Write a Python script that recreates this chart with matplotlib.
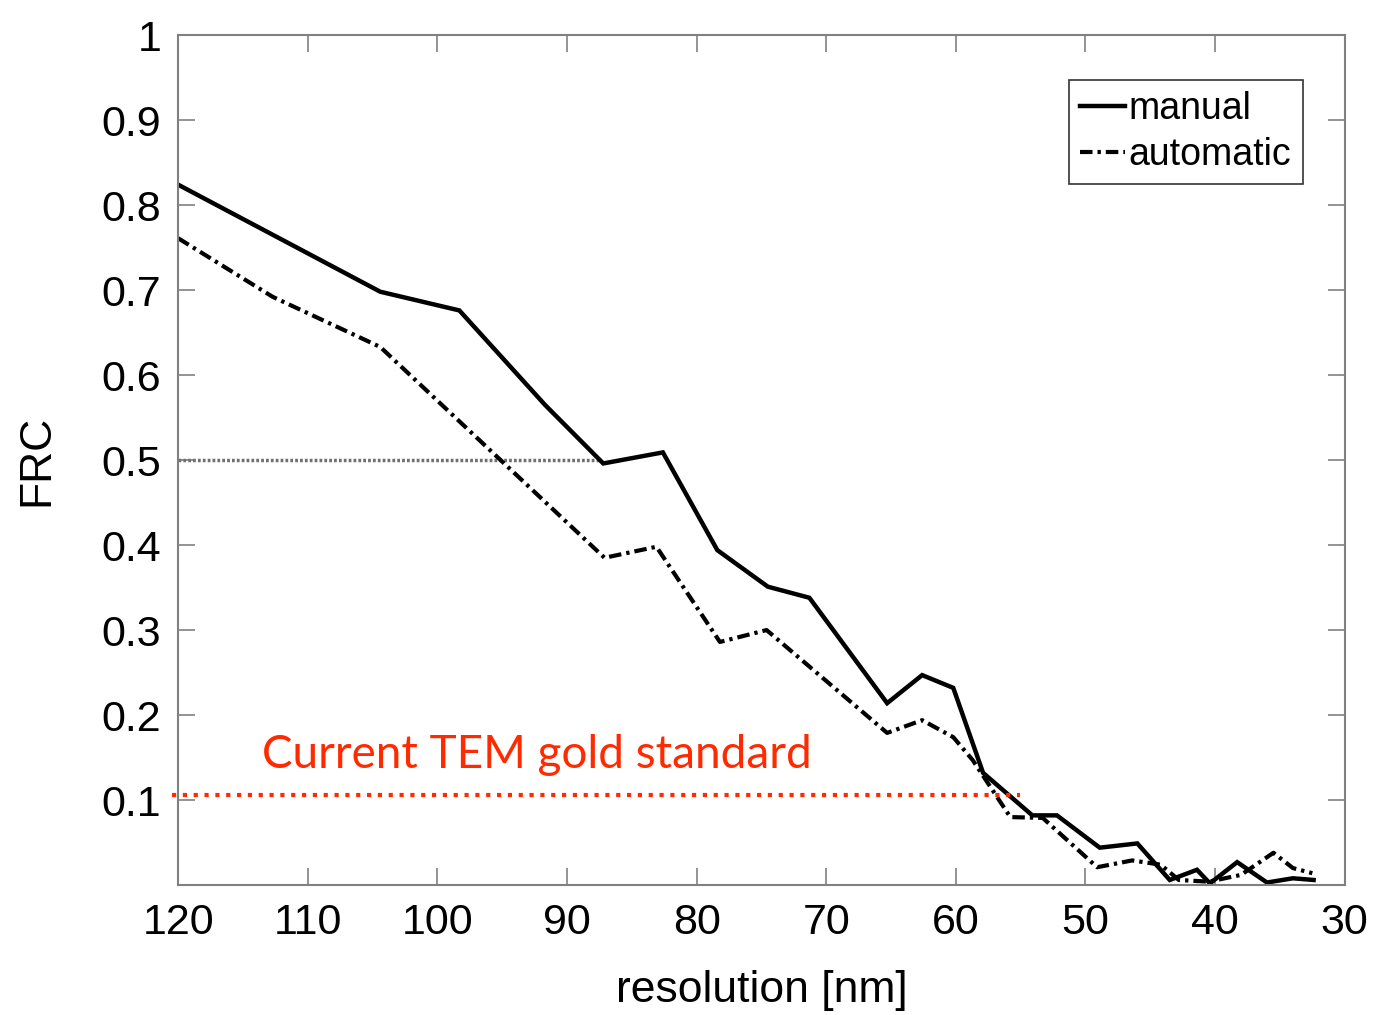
import matplotlib
matplotlib.use("Agg")
import matplotlib.pyplot as plt

# ---- data ----
manual_x = [120, 104.4, 98.3, 91.7, 87.2, 82.6, 78.4, 74.5, 71.3, 65.3, 62.6, 60.2,
            57.9, 54.1, 52.2, 48.9, 46.0, 43.5, 41.4, 40.4, 38.3, 36.0, 34.0, 32.4]
manual_y = [0.824, 0.698, 0.676, 0.565, 0.496, 0.509, 0.394, 0.351, 0.338, 0.214, 0.247, 0.232,
            0.132, 0.082, 0.082, 0.044, 0.049, 0.006, 0.018, 0.002, 0.027, 0.003, 0.008, 0.006]

auto_x = [120, 112.7, 104.4, 87.1, 83.1, 78.2, 74.6, 65.3, 62.6, 60.2, 58.7,
          55.8, 53.3, 49.1, 46.4, 44.2, 42.8, 40.5, 38.0, 35.5, 34.0, 32.5]
auto_y = [0.761, 0.692, 0.633, 0.385, 0.398, 0.286, 0.300, 0.179, 0.194, 0.174, 0.147,
          0.080, 0.079, 0.021, 0.029, 0.024, 0.006, 0.004, 0.012, 0.038, 0.020, 0.014]

half_line_x = [120, 87.5]
half_line_y = [0.5, 0.5]

gold_x = [120.46, 55.07]
gold_y = [0.106, 0.106]
gold_label = "Current TEM gold standard"

x_ticks = [120, 110, 100, 90, 80, 70, 60, 50, 40, 30]
y_ticks = [0.1, 0.2, 0.3, 0.4, 0.5, 0.6, 0.7, 0.8, 0.9, 1]
y_ticklabels = ["0.1", "0.2", "0.3", "0.4", "0.5", "0.6", "0.7", "0.8", "0.9", "1"]

plt.rcParams['font.family'] = ['Liberation Sans', 'DejaVu Sans']

fig = plt.figure(figsize=(13.75, 10.15), dpi=100)
ax = fig.add_axes([0.1295, 0.128, 0.8485, 0.8375])

ax.plot(half_line_x, half_line_y, color='#707070', lw=2.5, linestyle=(0, (0.8, 0.6)))
ax.plot(manual_x, manual_y, color='black', lw=3.2, label='manual', solid_joinstyle='miter')
ax.plot(auto_x, auto_y, color='black', lw=3.0, linestyle=(0, (3, 1.2, 0.8, 1.2)),
        label='automatic')

ax.plot(gold_x, gold_y, color='#ff2a00', lw=3, linestyle=(0, (1, 1.6)),
        dash_capstyle='butt', clip_on=False)
ax.text(113.5, 0.138, gold_label, color='#ff2a00', fontsize=33,
        family=['Lato', 'DejaVu Sans'], va='baseline', ha='left')

ax.set_xlim(120, 30)
ax.set_ylim(0, 1)
ax.set_xticks(x_ticks)
ax.set_yticks(y_ticks)
ax.set_yticklabels(y_ticklabels)
ax.tick_params(direction='in', length=12, width=1.2, color='#808080',
               top=True, right=True, labelsize=31)
ax.tick_params(axis='x', pad=13)
ax.tick_params(axis='y', pad=12)
for s in ax.spines.values():
    s.set_color('#808080')
    s.set_linewidth(1.5)

ax.set_xlabel('resolution [nm]', fontsize=32, labelpad=19)
ax.set_ylabel('FRC', fontsize=32, labelpad=32)

leg = ax.legend(loc='upper right', fontsize=27, frameon=True, fancybox=False,
                edgecolor='black', handlelength=1.2, handletextpad=0.1,
                borderpad=0.3, labelspacing=0.25, borderaxespad=0,
                bbox_to_anchor=(0.964, 0.947))
leg.get_frame().set_linewidth(1.2)

fig.savefig('out.png', dpi=100, facecolor='white')
